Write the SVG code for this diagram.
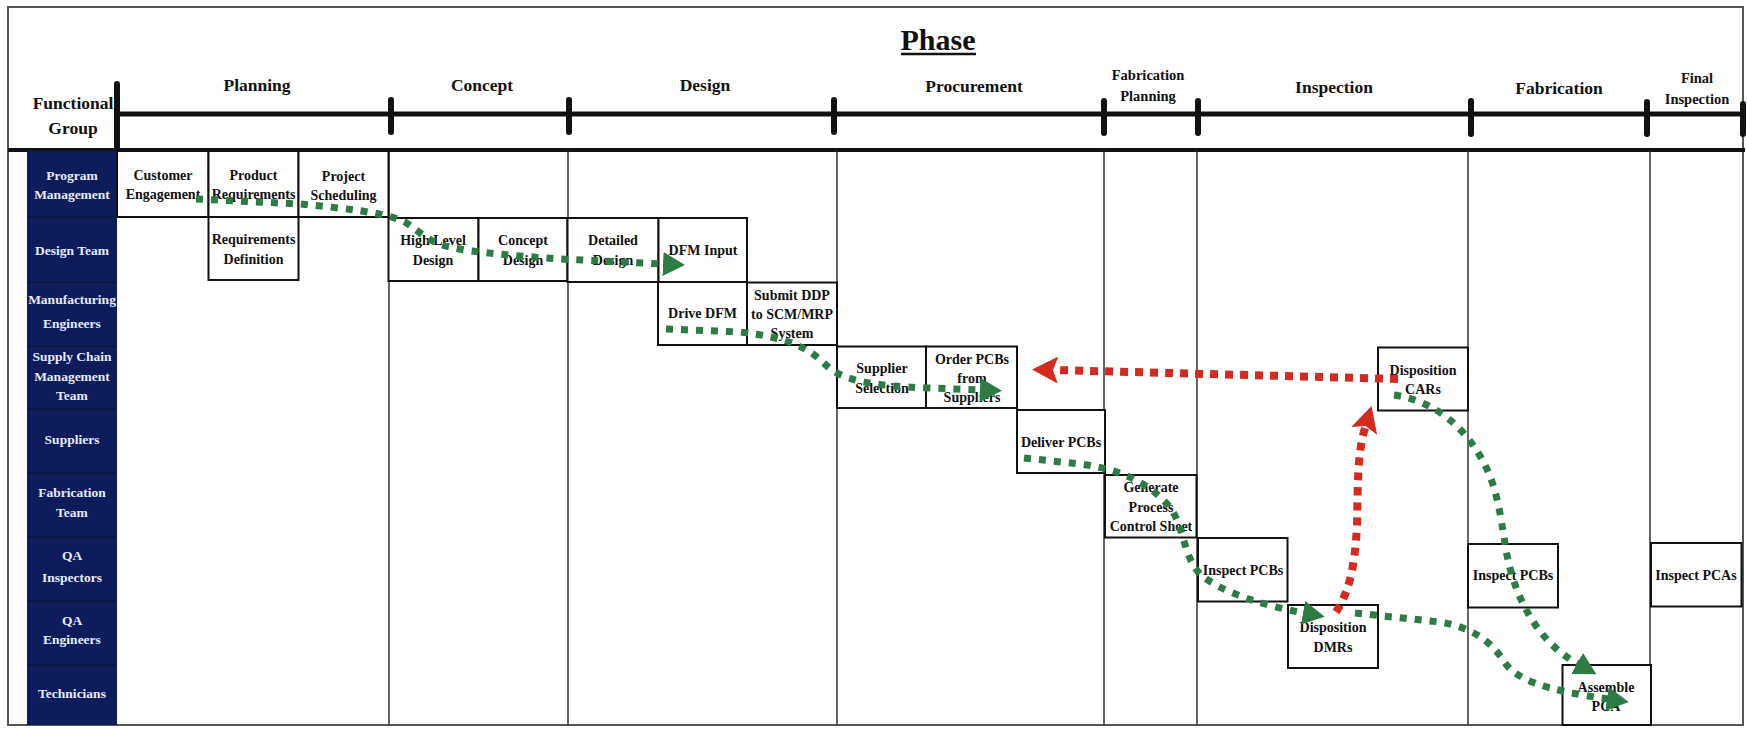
<svg xmlns="http://www.w3.org/2000/svg" width="1747" height="729" viewBox="0 0 1747 729">
  <defs>
    <style>
      text { font-family: "Liberation Serif", "Times New Roman", serif; font-weight: bold; text-anchor: middle; fill: #111; }
      .title { font-size: 30px; }
      .phase { font-size: 17.5px; }
      .phase-sm { font-size: 14.5px; }
      .lane text { font-size: 13.5px; fill: #e4ebff; }
      .lane-sep { stroke: #0a1440; stroke-width: 1.5; }
      .node rect { fill: #fff; stroke: #111; stroke-width: 2; }
      .node text { font-size: 14px; }
      .grid { stroke: #333; stroke-width: 1.5; }
      .tick { stroke: #111; stroke-width: 6; stroke-linecap: round; }
      .flow { fill: none; stroke: #2e7b45; stroke-width: 7; stroke-dasharray: 7 8; }
      .flow-red { fill: none; stroke: #d42a20; stroke-width: 8; stroke-dasharray: 8 7; }
    </style>
    <marker id="arrow-green" markerUnits="userSpaceOnUse" markerWidth="24" markerHeight="24" refX="1" refY="12" orient="auto">
      <path d="M0,0 L22,12 L0,24 z" fill="#2e7b45"/>
    </marker>
    <marker id="arrow-red" markerUnits="userSpaceOnUse" markerWidth="27" markerHeight="27" refX="3" refY="13.5" orient="auto">
      <path d="M0,0 L26,13.5 L0,27 L5,13.5 z" fill="#d42a20"/>
    </marker>
  </defs>

  <rect x="0" y="0" width="1747" height="729" fill="#fff"/>

  <!-- outer frame -->
  <rect x="8" y="7" width="1735" height="718" fill="none" stroke="#555" stroke-width="2"/>

  <!-- title -->
  <text class="title" x="938" y="50">Phase</text>
  <line x1="901" y1="54" x2="976" y2="54" stroke="#111" stroke-width="2.5"/>

  <!-- phase headings -->
  <g id="phases">
    <text class="phase" x="257" y="91">Planning</text>
    <text class="phase" x="482" y="91">Concept</text>
    <text class="phase" x="705" y="91">Design</text>
    <text class="phase" x="974" y="92">Procurement</text>
    <text class="phase-sm" x="1148" y="80">Fabrication</text>
    <text class="phase-sm" x="1148" y="101">Planning</text>
    <text class="phase" x="1334" y="93">Inspection</text>
    <text class="phase" x="1559" y="94">Fabrication</text>
    <text class="phase-sm" x="1697" y="83">Final</text>
    <text class="phase-sm" x="1697" y="104">Inspection</text>
  </g>

  <text class="phase" x="73" y="109">Functional</text>
  <text class="phase" x="73" y="134">Group</text>

  <!-- timeline -->
  <g id="timeline">
    <line x1="117" y1="114" x2="1745" y2="114" stroke="#111" stroke-width="5"/>
    <line class="tick" x1="117" y1="84" x2="117" y2="148"/>
    <line class="tick" x1="391" y1="100" x2="391" y2="132"/>
    <line class="tick" x1="569" y1="100" x2="569" y2="132"/>
    <line class="tick" x1="834" y1="100" x2="834" y2="132"/>
    <line class="tick" x1="1104" y1="101" x2="1104" y2="133"/>
    <line class="tick" x1="1198" y1="101" x2="1198" y2="133"/>
    <line class="tick" x1="1471" y1="101" x2="1471" y2="134"/>
    <line class="tick" x1="1647" y1="102" x2="1647" y2="134"/>
    <line class="tick" x1="1743" y1="104" x2="1743" y2="134"/>
  </g>

  <!-- header rule -->
  <line x1="8" y1="150" x2="1745" y2="150" stroke="#111" stroke-width="4"/>

  <!-- phase column lines -->
  <g id="columns">
    <line class="grid" x1="389" y1="151" x2="389" y2="725"/>
    <line class="grid" x1="568" y1="151" x2="568" y2="725"/>
    <line class="grid" x1="837" y1="151" x2="837" y2="725"/>
    <line class="grid" x1="1104" y1="151" x2="1104" y2="725"/>
    <line class="grid" x1="1197" y1="151" x2="1197" y2="725"/>
    <line class="grid" x1="1468" y1="151" x2="1468" y2="725"/>
    <line class="grid" x1="1650" y1="151" x2="1650" y2="725"/>
  </g>

  <!-- functional group lanes -->
  <g id="functional-groups" class="lane">
    <rect x="27" y="151" width="90" height="574" fill="#0f1c5c"/>
    <line class="lane-sep" x1="27" y1="217" x2="117" y2="217"/>
    <line class="lane-sep" x1="27" y1="282" x2="117" y2="282"/>
    <line class="lane-sep" x1="27" y1="346" x2="117" y2="346"/>
    <line class="lane-sep" x1="27" y1="409" x2="117" y2="409"/>
    <line class="lane-sep" x1="27" y1="473" x2="117" y2="473"/>
    <line class="lane-sep" x1="27" y1="537" x2="117" y2="537"/>
    <line class="lane-sep" x1="27" y1="601" x2="117" y2="601"/>
    <line class="lane-sep" x1="27" y1="665" x2="117" y2="665"/>
    <text x="72" y="180">Program</text>
    <text x="72" y="199">Management</text>
    <text x="72" y="255">Design Team</text>
    <text x="72" y="304">Manufacturing</text>
    <text x="72" y="328">Engineers</text>
    <text x="72" y="361">Supply Chain</text>
    <text x="72" y="381">Management</text>
    <text x="72" y="400">Team</text>
    <text x="72" y="444">Suppliers</text>
    <text x="72" y="497">Fabrication</text>
    <text x="72" y="517">Team</text>
    <text x="72" y="560">QA</text>
    <text x="72" y="582">Inspectors</text>
    <text x="72" y="625">QA</text>
    <text x="72" y="644">Engineers</text>
    <text x="72" y="698">Technicians</text>
  </g>

  <!-- activities -->
  <g id="customer-engagement" class="node">
    <rect x="117" y="151" width="91.5" height="66"/>
    <text x="163" y="180">Customer</text>
    <text x="163" y="199">Engagement</text>
  </g>
  <g id="product-requirements" class="node">
    <rect x="208.5" y="151" width="90" height="66"/>
    <text x="253.5" y="180">Product</text>
    <text x="253.5" y="199">Requirements</text>
  </g>
  <g id="project-scheduling" class="node">
    <rect x="298.5" y="151" width="90" height="66"/>
    <text x="343.5" y="181">Project</text>
    <text x="343.5" y="200">Scheduling</text>
  </g>
  <g id="requirements-definition" class="node">
    <rect x="208.5" y="217" width="90" height="63"/>
    <text x="253.5" y="244">Requirements</text>
    <text x="253.5" y="264">Definition</text>
  </g>
  <g id="high-level-design" class="node">
    <rect x="388.5" y="218" width="90" height="63"/>
    <text x="433" y="245">High Level</text>
    <text x="433" y="265">Design</text>
  </g>
  <g id="concept-design" class="node">
    <rect x="478.5" y="218" width="89" height="63"/>
    <text x="523" y="245">Concept</text>
    <text x="523" y="265">Design</text>
  </g>
  <g id="detailed-design" class="node">
    <rect x="567.5" y="218" width="91" height="64"/>
    <text x="613" y="245">Detailed</text>
    <text x="613" y="265">Design</text>
  </g>
  <g id="dfm-input" class="node">
    <rect x="658.5" y="218" width="88.5" height="64"/>
    <text x="703" y="255">DFM Input</text>
  </g>
  <g id="drive-dfm" class="node">
    <rect x="658" y="282" width="89" height="63"/>
    <text x="702.5" y="318">Drive DFM</text>
  </g>
  <g id="submit-ddp" class="node">
    <rect x="747" y="282.5" width="90" height="62.5"/>
    <text x="792" y="300">Submit DDP</text>
    <text x="792" y="319">to SCM/MRP</text>
    <text x="792" y="338">System</text>
  </g>
  <g id="supplier-selection" class="node">
    <rect x="837" y="346.5" width="89" height="61.5"/>
    <text x="882" y="373">Supplier</text>
    <text x="882" y="393">Selection</text>
  </g>
  <g id="order-pcbs" class="node">
    <rect x="926" y="346.5" width="91" height="61.5"/>
    <text x="972" y="364">Order PCBs</text>
    <text x="972" y="383">from</text>
    <text x="972" y="402">Suppliers</text>
  </g>
  <g id="deliver-pcbs" class="node">
    <rect x="1017" y="410" width="88" height="63"/>
    <text x="1061" y="447">Deliver PCBs</text>
  </g>
  <g id="generate-pcs" class="node">
    <rect x="1105" y="475" width="91.5" height="62.5"/>
    <text x="1151" y="492">Generate</text>
    <text x="1151" y="512">Process</text>
    <text x="1151" y="531">Control Sheet</text>
  </g>
  <g id="inspect-pcbs-1" class="node">
    <rect x="1198" y="538" width="89.5" height="63.5"/>
    <text x="1243" y="575">Inspect PCBs</text>
  </g>
  <g id="disposition-dmrs" class="node">
    <rect x="1288" y="605" width="90" height="63"/>
    <text x="1333" y="632">Disposition</text>
    <text x="1333" y="652">DMRs</text>
  </g>
  <g id="disposition-cars" class="node">
    <rect x="1378" y="347.5" width="90" height="63"/>
    <text x="1423" y="375">Disposition</text>
    <text x="1423" y="394">CARs</text>
  </g>
  <g id="inspect-pcbs-2" class="node">
    <rect x="1468" y="544" width="90" height="63.5"/>
    <text x="1513" y="580">Inspect PCBs</text>
  </g>
  <g id="inspect-pcas" class="node">
    <rect x="1651" y="543" width="90.5" height="63.5"/>
    <text x="1696" y="580">Inspect PCAs</text>
  </g>
  <g id="assemble-pca" class="node">
    <rect x="1562.5" y="665" width="88.5" height="60"/>
    <text x="1606" y="692">Assemble</text>
    <text x="1606" y="711">PCA</text>
  </g>

  <!-- flows -->
  <g id="connectors">
    <path class="flow" marker-end="url(#arrow-green)" d="M196,199 L300,204 C340,208 385,212 405,222 C420,232 430,243 450,247 C475,253 520,256 560,259 L664,264"/>
    <path class="flow" marker-end="url(#arrow-green)" d="M666,329 L740,332 C790,338 808,348 825,364 C840,380 870,386 930,388 L981,390"/>
    <path class="flow" marker-end="url(#arrow-green)" d="M1024,458 L1080,464 C1125,470 1150,485 1168,505 C1185,525 1182,555 1200,574 C1220,592 1265,606 1304,613"/>
    <path class="flow-red" marker-end="url(#arrow-red)" d="M1336,612 C1350,590 1355,565 1357,525 C1358,485 1357,455 1365,428"/>
    <path class="flow-red" marker-end="url(#arrow-red)" d="M1398,379 L1055,370"/>
    <path class="flow" marker-end="url(#arrow-green)" d="M1394,395 C1440,402 1468,432 1485,465 C1500,495 1502,530 1507,555 C1515,595 1535,640 1578,664"/>
    <path class="flow" marker-end="url(#arrow-green)" d="M1355,613 L1440,622 C1470,627 1490,640 1503,660 C1515,680 1545,690 1608,699"/>
  </g>
</svg>
